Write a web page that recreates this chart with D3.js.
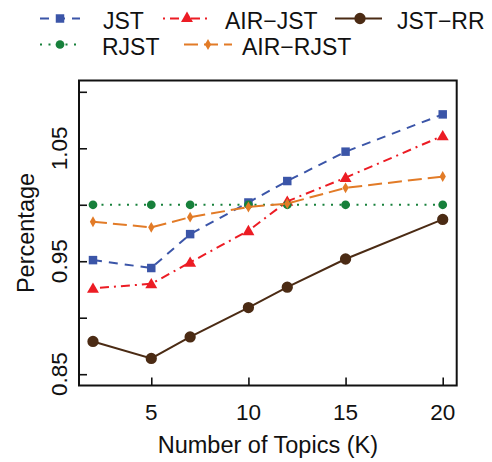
<!DOCTYPE html>
<html>
<head>
<meta charset="utf-8">
<script src="https://cdn.jsdelivr.net/npm/d3@7"></script>
<style>
  body { margin: 0; background: #fff; }
  svg { display: block; font-family: "Liberation Sans", Arial, sans-serif; }
</style>
</head>
<body>
<svg id="svg" width="492" height="462"></svg>
<script>
// number of topics
var topics = [2, 5, 7, 10, 12, 15, 20];

var jst     = [0.951, 0.944, 0.974, 1.002, 1.021, 1.047, 1.080];
var airJst  = [0.926, 0.930, 0.949, 0.977, 1.003, 1.024, 1.061];
var jstRR   = [0.879, 0.864, 0.883, 0.909, 0.927, 0.952, 0.987];
var rjst    = [1.000, 1.000, 1.000, 1.000, 1.000, 1.000, 1.000];
var airRjst = [0.985, 0.980, 0.989, 0.998, 1.001, 1.015, 1.025];

var xTicks = [5, 10, 15, 20];
var yTicks = [0.85, 0.90, 0.95, 1.00, 1.05, 1.10];
var yTickLabels = ["0.85", "0.95", "1.05"];

var series = [
  {name: "JST",      values: jst,     color: "#3b55a8", dash: "9,7",       symbol: d3.symbolSquare,   size: 72,  legend: {row: 0, line: [40, 80],   mark: 60,  text: 103}},
  {name: "AIR\u2212JST",  values: airJst,  color: "#ec1c24", dash: "2,5,9,5",   symbol: d3.symbolTriangle, size: 62,  legend: {row: 0, line: [163, 210], mark: 187, text: 225}},
  {name: "JST\u2212RR",   values: jstRR,   color: "#4b2b14", dash: null,        symbol: d3.symbolCircle,   size: 100, legend: {row: 0, line: [335, 382], mark: 360, text: 397}},
  {name: "RJST",     values: rjst,    color: "#17803b", dash: "2,6.5",     symbol: d3.symbolCircle,   size: 60,  legend: {row: 1, line: [40, 80],   mark: 60,  text: 102}},
  {name: "AIR\u2212RJST", values: airRjst, color: "#e27b27", dash: "14,6",      symbol: d3.symbolDiamond,  size: 34,  legend: {row: 1, line: [184, 232], mark: 208, text: 242}}
];

var svg = d3.select("#svg");

var plot = {left: 79, right: 456.7, top: 80.5, bottom: 385.5};

var xScale = d3.scaleLinear().domain([1.28, 20.72]).range([plot.left, plot.right]);
var yScale = d3.scaleLinear().domain([0.84, 1.11]).range([plot.bottom, plot.top]);

// ticks (inside the box, R style tcl > 0)
svg.append("g")
  .attr("transform", "translate(" + plot.left + ",0)")
  .call(d3.axisLeft(yScale).tickValues(yTicks).tickSizeInner(-8).tickSizeOuter(0).tickFormat(""))
  .call(function (g) { g.select(".domain").remove(); })
  .selectAll("line").attr("stroke", "#111").attr("stroke-width", 1.6);

svg.append("g")
  .attr("transform", "translate(0," + plot.bottom + ")")
  .call(d3.axisBottom(xScale).tickValues(xTicks).tickSizeInner(-8).tickSizeOuter(0).tickFormat(""))
  .call(function (g) { g.select(".domain").remove(); })
  .selectAll("line").attr("stroke", "#111").attr("stroke-width", 1.6);

// tick labels
svg.append("g").selectAll("text").data(yTickLabels).enter()
  .append("text")
  .attr("transform", function (d) { return "translate(66.5," + yScale(+d) + ") rotate(-90)"; })
  .attr("text-anchor", "middle")
  .attr("font-size", 22.5)
  .attr("fill", "#111")
  .text(function (d) { return d; });

svg.append("g").selectAll("text").data(xTicks).enter()
  .append("text")
  .attr("x", function (d) { return xScale(d); })
  .attr("y", 420)
  .attr("text-anchor", "middle")
  .attr("font-size", 22.5)
  .attr("fill", "#111")
  .text(function (d) { return d; });

// axis titles
svg.append("text")
  .attr("x", (plot.left + plot.right) / 2)
  .attr("y", 453)
  .attr("text-anchor", "middle")
  .attr("font-size", 23.5)
  .attr("fill", "#111")
  .text("Number of Topics (K)");

svg.append("text")
  .attr("transform", "translate(33.5," + ((plot.top + plot.bottom) / 2) + ") rotate(-90)")
  .attr("text-anchor", "middle")
  .attr("font-size", 23.5)
  .attr("fill", "#111")
  .text("Percentage");

// lines + points
var line = d3.line()
  .x(function (d, i) { return xScale(topics[i]); })
  .y(function (d) { return yScale(d); });

series.forEach(function (s) {
  svg.append("path")
    .datum(s.values)
    .attr("d", line)
    .attr("fill", "none")
    .attr("stroke", s.color)
    .attr("stroke-width", 2)
    .attr("stroke-dasharray", s.dash);

  svg.append("g").selectAll("path").data(s.values).enter()
    .append("path")
    .attr("d", d3.symbol().type(s.symbol).size(s.size))
    .attr("transform", function (d, i) {
      var yOff = s.symbol === d3.symbolTriangle ? 1 : 0;
      return "translate(" + xScale(topics[i]) + "," + (yScale(d) + yOff) + ")";
    })
    .attr("fill", s.color);
});

// frame
svg.append("rect")
  .attr("x", plot.left)
  .attr("y", plot.top)
  .attr("width", plot.right - plot.left)
  .attr("height", plot.bottom - plot.top)
  .attr("fill", "none")
  .attr("stroke", "#111")
  .attr("stroke-width", 2);

// legend
var rowMark = [18.5, 44.5];
var rowBase = [28.5, 54.5];
var leg = svg.append("g");
series.forEach(function (s) {
  var L = s.legend;
  leg.append("line")
    .attr("x1", L.line[0]).attr("x2", L.line[1])
    .attr("y1", rowMark[L.row]).attr("y2", rowMark[L.row])
    .attr("stroke", s.color)
    .attr("stroke-width", 2)
    .attr("stroke-dasharray", s.dash);
  leg.append("path")
    .attr("d", d3.symbol().type(s.symbol).size(s.size))
    .attr("transform", "translate(" + L.mark + "," + rowMark[L.row] + ")")
    .attr("fill", s.color);
  leg.append("text")
    .attr("x", L.text)
    .attr("y", rowBase[L.row])
    .attr("font-size", 23)
    .attr("fill", "#111")
    .text(s.name);
});
</script>
</body>
</html>
